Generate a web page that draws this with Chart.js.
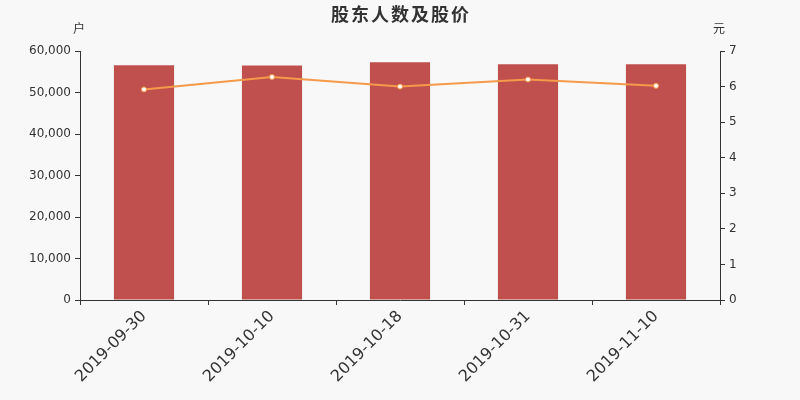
<!DOCTYPE html>
<html>
<head>
<meta charset="utf-8">
<script src="https://cdn.jsdelivr.net/npm/chart.js@4/dist/chart.umd.min.js"></script>
<style>
html,body{margin:0;padding:0;background:#f8f8f8;}
#wrap{width:800px;height:400px;position:relative;}
</style>
</head>
<body>
<div id="wrap"><canvas id="c" width="800" height="400"></canvas></div>
<script>
const categories = ['2019-09-30','2019-10-10','2019-10-18','2019-10-31','2019-11-10'];
const holders = [56560, 56520, 57280, 56800, 56820];
const prices = [5.92, 6.27, 6.00, 6.20, 6.02];
const titleText = '股东人数及股价';
const leftUnit = '户';
const rightUnit = '元';

const textPlugin = {
  id: 'texts',
  afterDraw(chart) {
    const ctx = chart.ctx;
    ctx.save();
    ctx.fillStyle = '#333';
    ctx.textAlign = 'center';
    ctx.textBaseline = 'middle';
    ctx.font = 'bold 18px "Noto Sans CJK SC"';
    ctx.letterSpacing = '2px';
    ctx.fillText(titleText, 401, 14);
    ctx.letterSpacing = '0px';
    ctx.font = '12px "Noto Sans CJK SC"';
    const a = chart.chartArea;
    ctx.fillText(leftUnit, a.left - 1, 28);
    ctx.fillText(rightUnit, a.right - 1, 28);
    ctx.restore();
  }
};
const bgPlugin = {
  id: 'bg',
  beforeDraw(chart) {
    const ctx = chart.ctx;
    ctx.save();
    ctx.fillStyle = '#f8f8f8';
    ctx.fillRect(0, 0, chart.width, chart.height);
    ctx.restore();
  }
};

new Chart(document.getElementById('c'), {
  data: {
    labels: categories,
    datasets: [
      {
        type: 'line',
        data: prices,
        yAxisID: 'y1',
        borderColor: '#f5994a',
        borderWidth: 2,
        pointRadius: 2.5,
        pointBackgroundColor: '#ffffff',
        pointBorderColor: '#f5994a',
        pointBorderWidth: 1,
        tension: 0,
        order: 0
      },
      {
        type: 'bar',
        data: holders,
        yAxisID: 'y',
        backgroundColor: '#c0504d',
        categoryPercentage: 1,
        barPercentage: 0.47,
        order: 1
      }
    ]
  },
  options: {
    responsive: false,
    animation: false,
    devicePixelRatio: 1,
    layout: { padding: { top: 51, left: 0, right: 0, bottom: 0 } },
    plugins: { legend: { display: false }, tooltip: { enabled: false } },
    scales: {
      x: {
        offset: true,
        grid: { offset: true, drawOnChartArea: false, color: '#333', tickLength: 5 },
        border: { color: '#333', width: 1 },
        ticks: {
          color: '#333',
          font: { family: 'DejaVu Sans', size: 16 },
          maxRotation: 45, minRotation: 45, padding: 2
        },
        afterFit(s) { s.height = 100; }
      },
      y: {
        position: 'left',
        min: 0, max: 60000,
        grid: { drawOnChartArea: false, color: '#333', tickLength: 5 },
        border: { color: '#333', width: 1 },
        ticks: {
          stepSize: 10000,
          color: '#333',
          font: { family: 'DejaVu Sans', size: 12 },
          padding: 4,
          callback: v => v.toLocaleString('en-US')
        },
        afterFit(s) { s.width = 80; }
      },
      y1: {
        position: 'right',
        min: 0, max: 7,
        grid: { drawOnChartArea: false, color: '#333', tickLength: 5 },
        border: { color: '#333', width: 1 },
        ticks: {
          stepSize: 1,
          color: '#333',
          font: { family: 'DejaVu Sans', size: 12 },
          padding: 4
        },
        afterFit(s) { s.width = 80; }
      }
    }
  },
  plugins: [bgPlugin, textPlugin]
});
</script>
</body>
</html>
